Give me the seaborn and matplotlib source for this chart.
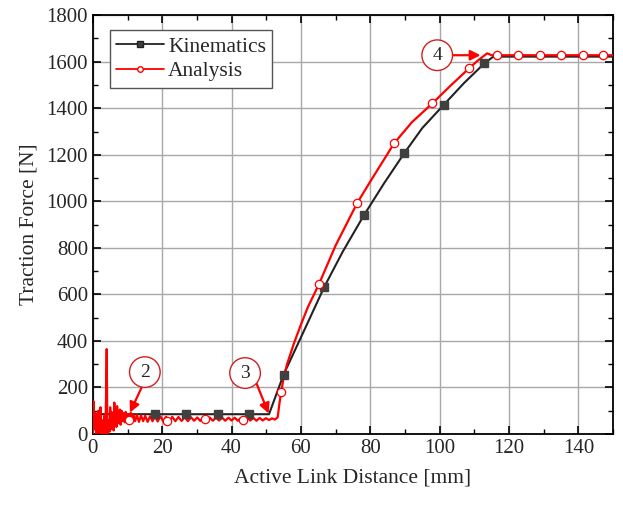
import matplotlib
matplotlib.use("Agg")
import matplotlib.pyplot as plt
from matplotlib.lines import Line2D
from matplotlib.ticker import MultipleLocator
import seaborn as sns

# Kinematics curve (black)
kin_x = [0, 50.8, 55, 60, 66.7, 72, 78.2, 84, 89.8, 95, 101.2, 107, 112.9, 115.5, 150]
kin_y = [85, 85, 255, 415, 631, 782, 941, 1078, 1207, 1315, 1415, 1508, 1593, 1622, 1622]
kin_mx = [18, 27, 36, 45, 55, 66.7, 78.2, 89.8, 101.2, 112.9]
kin_my = [85, 85, 85, 85, 255, 631, 941, 1207, 1415, 1593]

# Analysis curve (red): noisy start, wavy plateau, rise, plateau
ana_x = [0, 0.2, 0.4, 0.6, 0.8, 1.0, 1.2, 1.4, 1.6, 1.8, 2.0, 2.2, 2.4, 2.6, 2.8,
         3.0, 3.2, 3.4, 3.6, 3.8, 4.0, 4.2, 4.4, 4.6, 4.8, 5.0, 5.2, 5.4, 5.6, 5.8,
         6.0, 6.2, 6.4, 6.6, 6.8, 7.0, 7.2, 7.4, 7.6, 7.8, 8.0, 8.3, 8.6, 8.9,
         9.2, 9.5, 9.8, 10.1, 10.5, 10.9, 11.3, 11.7, 12.2, 12.7, 13.3, 13.9,
         14.5, 15.1, 15.8, 16.5, 17.2, 17.9, 18.7, 19.5, 20.3, 21.1, 22.0, 22.9,
         23.8, 24.7, 25.6, 26.5, 27.4, 28.3, 29.2, 30.1, 31.0, 31.9, 32.8, 33.7,
         34.6, 35.5, 36.4, 37.3, 38.2, 39.1, 40.0, 40.9, 41.8, 42.7, 43.6, 44.5,
         45.4, 46.3, 47.2, 48.1, 49.0, 49.9, 50.8, 51.7, 52.5,
         53.3, 53.8, 54.3, 55, 56, 58, 60, 62, 65.2, 70, 76.2, 80, 86.9, 92, 97.9,
         103, 108.5, 111, 113.7, 115, 116.6, 150]
ana_y = [0, 140, 60, 20, 90, 0, 70, 10, 100, 30, 0, 115, 20, 60, 0,
         45, 10, 80, 0, 150, 365, 0, 30, 60, 10, 115, 20, 95, 35, 70,
         15, 135, 40, 110, 30, 120, 45, 95, 50, 105, 40, 100, 55, 90,
         50, 95, 55, 85, 60, 92, 58, 84, 55, 82, 52, 80, 55, 78,
         52, 76, 55, 75, 54, 76, 55, 74, 50, 74, 55, 73, 56, 72,
         55, 72, 57, 71, 56, 72, 58, 71, 57, 70, 58, 70, 57, 70,
         58, 70, 57, 69, 58, 69, 58, 69, 57, 69, 58, 68, 60, 67, 62,
         72, 130, 180, 240, 300, 390, 470, 545, 644, 810, 992, 1085, 1250, 1340, 1421,
         1495, 1572, 1605, 1636, 1628, 1628, 1628]
ana_mx = [10.4, 21.4, 32.3, 43.3, 54.3, 65.2, 76.2, 86.9, 97.9, 108.5,
          116.6, 122.7, 128.8, 135.1, 141.2, 147.2]
ana_my = [62, 55, 64, 62, 180, 644, 992, 1250, 1421, 1572,
          1628, 1628, 1628, 1628, 1628, 1628]

sns.set_style("ticks")
plt.rcParams["font.family"] = ["Liberation Serif", "DejaVu Serif"]

fig = plt.figure(figsize=(6.23, 5.07), dpi=100)
ax = fig.add_axes([0.149, 0.144, 0.835, 0.826])

red = "#ff0000"
dark = "#222222"

sns.lineplot(x=kin_x, y=kin_y, ax=ax, color=dark, lw=1.5, sort=False, zorder=3)
sns.lineplot(x=ana_x, y=ana_y, ax=ax, color=red, lw=1.6, sort=False, zorder=4)
ax.plot(kin_mx, kin_my, ls="", marker="s", ms=5.5, color="#404040", zorder=5)
ax.plot(ana_mx, ana_my, ls="", marker="o", ms=6, mfc="white", mec=red, mew=0.9, zorder=6)

ax.set_xlim(0, 150)
ax.set_ylim(0, 1800)
ax.xaxis.set_major_locator(MultipleLocator(20))
ax.xaxis.set_minor_locator(MultipleLocator(10))
ax.yaxis.set_major_locator(MultipleLocator(200))
ax.yaxis.set_minor_locator(MultipleLocator(100))
ax.grid(True, which="major", color="#a8a8a8", lw=1.0)
ax.tick_params(which="both", direction="in", top=True, right=True, labelsize=15, color="black")
ax.tick_params(which="major", length=6, width=1.2)
ax.tick_params(which="minor", length=3.5, width=1.0)
for s in ax.spines.values():
    s.set_color("black")
    s.set_linewidth(1.3)

ax.set_xlabel("Active Link Distance [mm]", fontsize=15.5, labelpad=8)
ax.set_ylabel("Traction Force [N]", fontsize=15.5, labelpad=6)

handles = [
    Line2D([], [], color=dark, lw=1.3, marker="s", ms=4, mfc="#404040"),
    Line2D([], [], color=red, lw=1.3, marker="o", ms=4, mfc="white", mec=red),
]
leg = ax.legend(handles, ["Kinematics", "Analysis"], loc="upper left", fontsize=15.5,
                frameon=True, fancybox=False, edgecolor="#555555", framealpha=1,
                handlelength=2.2, handletextpad=0.2, borderpad=0.3, labelspacing=0.2,
                bbox_to_anchor=(0.012, 0.99))
leg.get_frame().set_linewidth(1.0)

# numbered callouts
callouts = [("2", 15.0, 266, 15.4, 243, 10.7, 92),
            ("3", 43.9, 262, 46.5, 243, 50.7, 88),
            ("4", 99.3, 1628, 103.0, 1628, 111.8, 1628)]
for lab, cx, cy, sx, sy, tx, ty in callouts:
    ax.annotate("", xy=(tx, ty), xytext=(sx, sy),
                arrowprops=dict(arrowstyle="-|>,head_length=0.6,head_width=0.3",
                                color=red, lw=1.6, shrinkA=0, shrinkB=0), zorder=7)
    ax.text(cx, cy, lab, fontsize=14, ha="center", va="center", zorder=8,
            bbox=dict(boxstyle="circle,pad=0.35", fc="white", ec="#d02020", lw=1.0))

fig.savefig("out.png", dpi=100)
